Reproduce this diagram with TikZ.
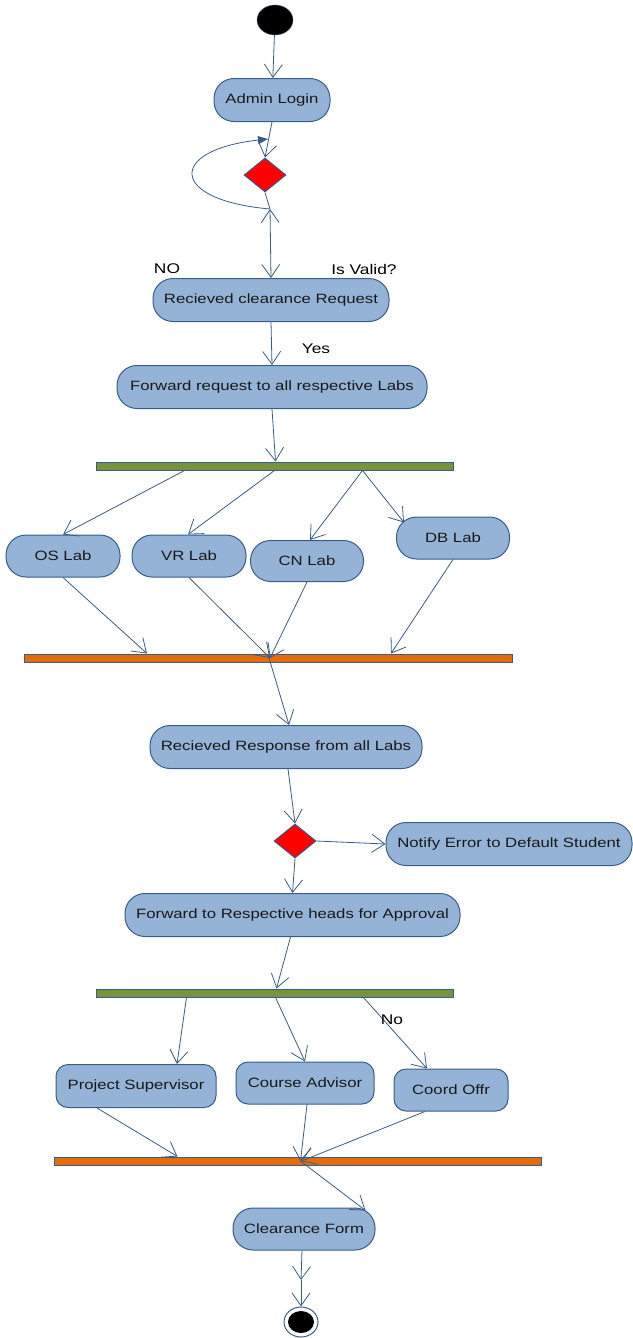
\documentclass[tikz,border=0pt]{standalone}
\usepackage{fontspec}
\setmainfont[FakeStretch=1.24]{Liberation Sans}
\usepackage{tikz}
\usetikzlibrary{arrows.meta, shapes.geometric, calc}
\definecolor{actfill}{HTML}{95B3D7}
\definecolor{actline}{HTML}{385D8A}
\definecolor{forkgreen}{HTML}{77933C}
\definecolor{joinorange}{HTML}{E46C0A}

\begin{document}
\begin{tikzpicture}[x=1pt,y=-1pt,font=\fontsize{13.5}{16}\selectfont,
  >={Straight Barb[length=13pt,width=18pt]},
  act/.style={draw=actline,fill=actfill,line width=1pt,rounded corners=20pt,
    minimum height=43pt,inner sep=2pt,text=black!90},
  head/.style={act,rounded corners=12pt},
  decide/.style={diamond,draw=actline,fill=red,line width=1pt,
    minimum width=42pt,minimum height=34pt,inner sep=0pt},
  forkbar/.style={draw=actline,fill=forkgreen,line width=1pt,
    minimum height=8pt,inner sep=0pt},
  joinbar/.style={forkbar,fill=joinorange},
  flow/.style={->,draw=actline,line width=0.8pt},
  lbl/.style={font=\fontsize{14}{16}\selectfont,text=black}]
  \useasboundingbox (0,0) rectangle (632,1338);

  % start and login
  \node[ellipse,fill=black,draw=actline,minimum width=36pt,minimum height=30pt,
    inner sep=0pt] (start) at (275,20) {};
  \node[act,minimum width=116pt] (login) at (272,100) {Admin Login};
  \node[decide] (valid) at (265,175) {};
  \coordinate (loopstart) at (270,209);
  \coordinate (looptip) at (268,139);

  \draw[flow] (start) -- (login);
  \draw[flow] (login.south) -- (valid.north);
  \draw[actline,line width=0.8pt] (valid.south) -- (loopstart);
  \draw[actline,line width=0.8pt,-{Triangle[length=10pt,width=8pt]}]
    (loopstart) .. controls (168,200) and (168,150) .. (looptip);

  \node[lbl] (no) at (167,269) {NO};
  \node[lbl] (isvalid) at (364,269) {Is Valid?};

  % request
  \node[act,minimum width=236pt] (request) at (271,300) {Recieved clearance Request};
  \draw[flow,<->] (loopstart) -- (request.north);
  \node[lbl] (yes) at (316,349) {Yes};
  \node[act,minimum width=310pt] (forward) at (272,387)
    {Forward request to all respective Labs};
  \draw[flow] (request.south) -- (forward.north);

  % labs fork / join
  \node[forkbar,minimum width=357pt] (fork1) at (274.5,466) {};
  \draw[flow] (forward.south) -- ([xshift=1pt]fork1.north);

  \node[act,minimum width=114pt,minimum height=42pt] (os) at (63,556) {OS Lab};
  \node[act,minimum width=114pt,minimum height=42pt] (vr) at (189,556) {VR Lab};
  \node[act,minimum width=113pt,minimum height=41pt] (cn) at (307,561) {CN Lab};
  \node[act,minimum width=113pt,minimum height=42pt] (db) at (453,538) {DB Lab};

  \draw[flow] ([xshift=-90pt]fork1.south) -- (os.north);
  \draw[flow] (fork1.south) -- ([xshift=-1pt]vr.north);
  \draw[flow] ([xshift=88pt]fork1.south) -- ([xshift=3pt]cn.north);
  \draw[flow] ([xshift=88pt]fork1.south) -- ([shift={(8pt,-6pt)}]db.north west);

  \node[joinbar,minimum width=488pt] (join1) at (268,658) {};
  \draw[flow] (os.south) -- ([xshift=-121pt]join1.north);
  \draw[flow] (vr.south) -- ([xshift=2pt]join1.center);
  \draw[flow] (cn.south) -- ([xshift=2pt]join1.center);
  \draw[flow] (db.south) -- ([xshift=123pt]join1.north);

  % response and check
  \node[act,minimum width=272pt] (response) at (286,747)
    {Recieved Response from all Labs};
  \draw[flow] ([xshift=1pt]join1.center) -- ([xshift=3pt]response.north);
  \node[decide] (check) at (295,841) {};
  \draw[flow] ([xshift=2pt]response.south) -- (check.north);
  \node[act,minimum width=246pt] (notify) at (509,844)
    {Notify Error to Default Student};
  \draw[flow] (check.east) -- (notify.west);
  \node[act,minimum width=335pt] (heads) at (292.5,915)
    {Forward to Respective heads for Approval};
  \draw[flow] (check.south) -- (heads.north);

  % heads fork / join
  \node[forkbar,minimum width=357pt] (fork2) at (274.5,993) {};
  \draw[flow] ([xshift=-2pt]heads.south) -- ([xshift=2pt]fork2.north);

  \node[head,minimum width=160pt] (supervisor) at (136,1086) {Project Supervisor};
  \node[head,minimum width=138pt,minimum height=42pt] (advisor) at (305,1083)
    {Course Advisor};
  \node[head,minimum width=114pt,minimum height=42pt] (coord) at (451,1090)
    {Coord Offr};

  \draw[flow] ([xshift=-88pt]fork2.south) -- ([xshift=41pt]supervisor.north);
  \draw[flow] ([xshift=1pt]fork2.south) -- (advisor.north);
  \draw[flow] ([xshift=89pt]fork2.south) -- ([xshift=-24pt]coord.north);
  \node[lbl] (nolabel) at (392,1020) {No};

  \node[joinbar,minimum width=487pt] (join2) at (297.5,1161) {};
  \draw[flow] ([xshift=-39pt]supervisor.south) -- ([xshift=-120pt]join2.north);
  \draw[flow] ([xshift=2pt]advisor.south) -- ([xshift=3pt]join2.center);
  \draw[flow] ([xshift=-26pt]coord.south) -- ([xshift=4pt]join2.center);

  % clearance form and end
  \node[act,minimum width=142pt,minimum height=42pt] (form) at (304,1229)
    {Clearance Form};
  \draw[flow] ([xshift=3pt]join2.center) -- ([shift={(-10pt,-3pt)}]form.north east);

  \node[ellipse,draw=actline,fill=white,line width=1pt,minimum width=34pt,
    minimum height=30pt,inner sep=0pt] (end) at (301,1322) {};
  \node[ellipse,fill=black,minimum width=26pt,minimum height=22pt,
    inner sep=0pt] (endcore) at (end) {};
  \coordinate (mid) at (301,1280);
  \draw[flow] ([xshift=-2pt]form.south) -- (mid);
  \draw[flow] (mid) -- (end.north);
\end{tikzpicture}
\end{document}
